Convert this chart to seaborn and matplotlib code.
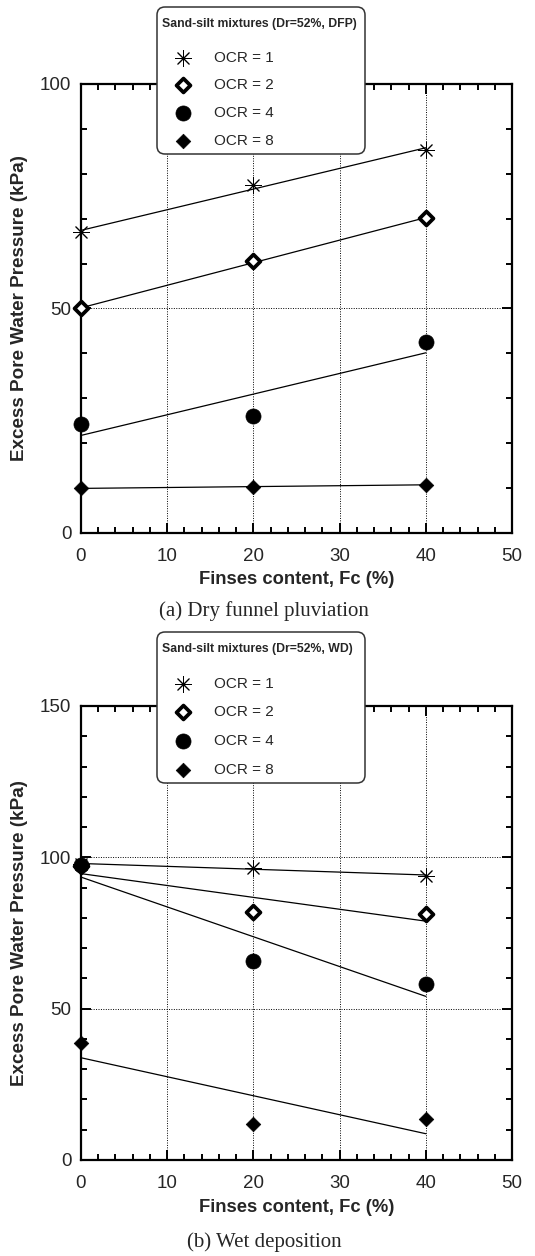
import numpy as np
import pandas as pd
import matplotlib
matplotlib.use("Agg")
import matplotlib.pyplot as plt
from matplotlib.ticker import MultipleLocator
import seaborn as sns

# Fines content (%) tested
fines = [0, 20, 40]
ocr_labels = ["OCR = 1", "OCR = 2", "OCR = 4", "OCR = 8"]

# Excess pore water pressure (kPa), dry funnel pluviation
dfp_ocr1 = [67.0, 77.4, 85.4]
dfp_ocr2 = [50.0, 60.5, 70.1]
dfp_ocr4 = [24.2, 26.0, 42.6]
dfp_ocr8 = [10.0, 10.2, 10.8]

# Excess pore water pressure (kPa), wet deposition
wd_ocr1 = [97.7, 96.6, 93.9]
wd_ocr2 = [97.0, 82.0, 81.3]
wd_ocr4 = [97.5, 65.7, 58.1]
wd_ocr8 = [38.5, 11.8, 13.4]

panel_titles = ["Sand-silt mixtures (Dr=52%, DFP)", "Sand-silt mixtures (Dr=52%, WD)"]
captions = ["(a) Dry funnel pluviation", "(b) Wet deposition"]
y_limits = [100, 150]


def long_table(series, method):
    rows = []
    for lab, vals in zip(ocr_labels, series):
        for fc, u in zip(fines, vals):
            rows.append({"Fc": fc, "u": u, "OCR": lab, "method": method})
    return pd.DataFrame(rows)


df = pd.concat([
    long_table([dfp_ocr1, dfp_ocr2, dfp_ocr4, dfp_ocr8], "DFP"),
    long_table([wd_ocr1, wd_ocr2, wd_ocr4, wd_ocr8], "WD"),
], ignore_index=True)

sns.set_theme(style="ticks")
plt.rcParams["font.family"] = ["Liberation Sans", "DejaVu Sans"]

W, H = 535, 1256
fig = plt.figure(figsize=(W / 100, H / 100), dpi=100)

# axes boxes in pixels: left, top, right, bottom
boxes = [(81, 84, 512, 533), (81, 706, 512, 1160)]
# legend boxes in pixels: left, top, right
legend_boxes = [(157, 7, 365), (157, 632, 365)]
legend_spacing = [0.9, 0.965]
caption_y = [611, 1242]

styles = {
    "OCR = 1": dict(marker=(8, 2, 0), s=130, color="black", linewidth=0.7),
    "OCR = 2": dict(marker="D", s=50, color="white", edgecolor="black", linewidth=2.7),
    "OCR = 4": dict(marker="o", s=118, color="black", edgecolor="black", linewidth=0.5),
    "OCR = 8": dict(marker="D", s=55, color="black", edgecolor="black", linewidth=0.5),
}

for i, method in enumerate(["DFP", "WD"]):
    l, t, r, b = boxes[i]
    ax = fig.add_axes([l / W, 1 - b / H, (r - l) / W, (b - t) / H])
    sub = df[df["method"] == method]
    for lab in ocr_labels:
        d = sub[sub["OCR"] == lab]
        sns.regplot(data=d, x="Fc", y="u", ax=ax, scatter=False, ci=None,
                    truncate=True, color="black", line_kws=dict(lw=0.9, zorder=2))
        sns.scatterplot(data=d, x="Fc", y="u", ax=ax, label=lab, zorder=3,
                        clip_on=False, **styles[lab])

    ax.set_xlim(0, 50)
    ax.set_ylim(0, y_limits[i])
    ax.xaxis.set_major_locator(MultipleLocator(10))
    ax.xaxis.set_minor_locator(MultipleLocator(2))
    ax.yaxis.set_major_locator(MultipleLocator(50))
    ax.yaxis.set_minor_locator(MultipleLocator(10))
    ax.grid(True, which="major", ls=(0, (1, 1.5)), color="black", lw=0.7)
    ax.tick_params(which="both", direction="in", top=True, right=True,
                   color="black", width=1.4)
    ax.tick_params(which="major", length=7, labelsize=13.5)
    ax.tick_params(axis="x", which="major", pad=11)
    ax.tick_params(axis="y", which="major", pad=7)
    ax.tick_params(which="minor", length=4)
    for sp in ax.spines.values():
        sp.set_linewidth(1.6)
        sp.set_color("black")

    ax.set_xlabel("Finses content, Fc (%)", fontsize=13.2, fontweight="bold")
    ax.set_ylabel("Excess Pore Water Pressure (kPa)", fontsize=13.6, fontweight="bold")
    ax.xaxis.set_label_coords(0.5, -0.085)
    ax.yaxis.set_label_coords(-0.122, 0.5)

    # legend frame spans a fixed width; a blank title line reserves room for the heading
    ll, lt, lr = legend_boxes[i]
    leg = ax.legend(loc="upper left",
                    bbox_to_anchor=(ll / W, 1 - lt / H, (lr - ll) / W, 0.0001),
                    bbox_transform=fig.transFigure, mode="expand", borderaxespad=0,
                    title=" ", title_fontsize=18.2, alignment="left",
                    fontsize=11, frameon=True, fancybox=True, framealpha=1,
                    edgecolor="#333333", borderpad=0.39, handlelength=2.66,
                    handletextpad=0.67, labelspacing=legend_spacing[i])
    leg.get_frame().set_linewidth(1.1)
    leg.get_frame().set_boxstyle("round", pad=0, rounding_size=0.5)
    leg.set_zorder(10)

    fig.text(162 / W, 1 - (lt + 17) / H, panel_titles[i], ha="left", va="center",
             fontsize=8.8, fontweight="bold", zorder=20)

    fig.text(264 / W, 1 - caption_y[i] / H, captions[i], ha="center", va="center",
             fontsize=15, family=["Liberation Serif", "DejaVu Serif"])

fig.savefig("out.png", dpi=100, facecolor="white")
